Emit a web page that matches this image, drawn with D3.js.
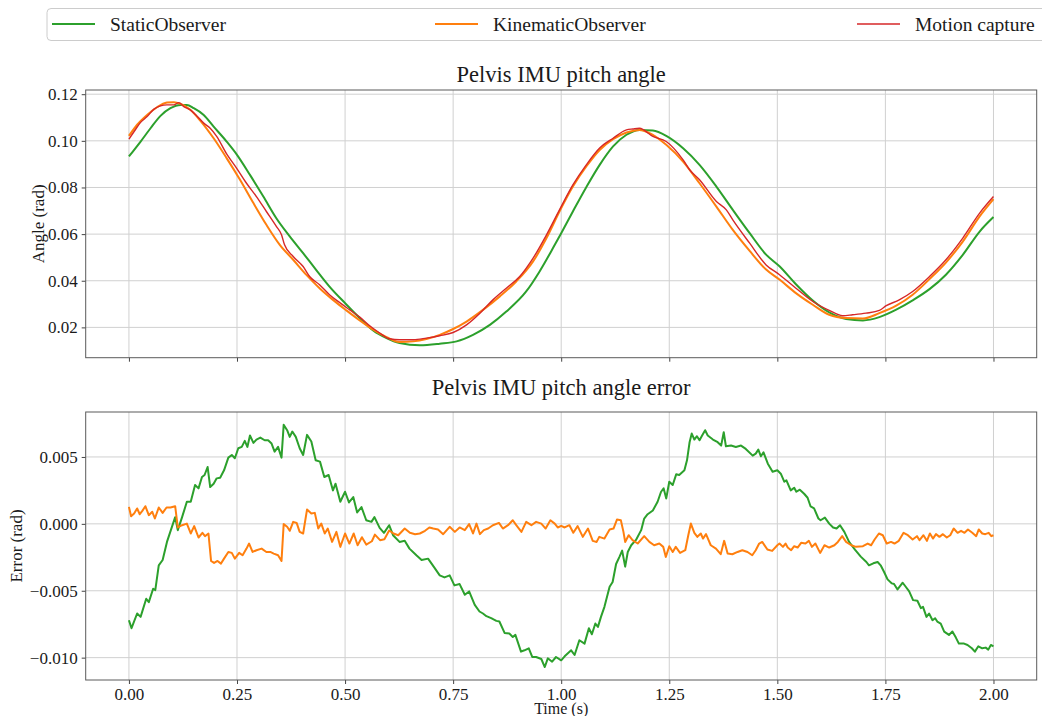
<!DOCTYPE html>
<html lang="en">
<head>
<meta charset="UTF-8">
<title>Pelvis IMU pitch angle</title>
<script src="https://cdn.jsdelivr.net/npm/d3@7"></script>
<style>
    body { margin: 0; background: #fff; }
    svg text { font-family: "Liberation Serif", "DejaVu Serif", serif; fill: #1a1a1a; }
</style>
</head>
<body>
<script>

    // ticks
    var timeTicks = [0, 0.25, 0.5, 0.75, 1.0, 1.25, 1.5, 1.75, 2.0];
    var angleTicks = [0.02, 0.04, 0.06, 0.08, 0.10, 0.12];
    var errorTicks = [-0.010, -0.005, 0.000, 0.005];
    var seriesNames = ["StaticObserver", "KinematicObserver", "Motion capture"];

    // pitch angle (s, rad)
    var staticAngle = [[0,0.0933],[0.027,0.0997],[0.05,0.1054],[0.073,0.1107],[0.096,0.114],[0.119,0.1154],[0.134,0.1154],
        [0.15,0.114],[0.173,0.1111],[0.196,0.1061],[0.226,0.0997],[0.25,0.094],[0.28,0.0854],[0.311,0.0761],[0.341,0.0668],
        [0.372,0.059],[0.403,0.0518],[0.433,0.0447],[0.464,0.0375],[0.5,0.0304],[0.534,0.024],[0.565,0.0187],[0.596,0.0154],
        [0.626,0.0133],[0.673,0.0123],[0.719,0.013],[0.758,0.014],[0.796,0.0168],[0.835,0.0211],[0.873,0.0268],[0.919,0.0354],
        [0.95,0.044],[0.981,0.054],[1.0,0.0604],[1.027,0.0697],[1.058,0.0801],[1.089,0.0897],[1.12,0.0976],[1.151,0.1026],
        [1.181,0.1047],[1.212,0.1044],[1.243,0.1021],[1.282,0.0968],[1.32,0.0897],[1.359,0.0804],[1.397,0.0704],[1.436,0.0604],
        [1.474,0.0512],[1.505,0.0462],[1.543,0.0385],[1.582,0.0315],[1.62,0.0264],[1.659,0.0236],[1.698,0.023],[1.736,0.0244],
        [1.775,0.0276],[1.813,0.0316],[1.852,0.0364],[1.89,0.0426],[1.929,0.0511],[1.968,0.0611],[2.0,0.0673]];

    var kinematicAngle = [[0,0.1021],[0.019,0.1069],[0.042,0.1111],[0.065,0.1144],[0.088,0.1164],[0.104,0.1166],[0.119,0.1159],
        [0.142,0.1133],[0.165,0.1087],[0.196,0.1011],[0.226,0.0926],[0.257,0.0833],[0.288,0.0733],[0.318,0.064],[0.349,0.0554],
        [0.38,0.049],[0.41,0.0426],[0.441,0.0368],[0.472,0.0318],[0.503,0.0273],[0.534,0.023],[0.565,0.019],[0.596,0.0158],
        [0.626,0.0137],[0.658,0.014],[0.688,0.015],[0.719,0.0168],[0.75,0.0193],[0.781,0.0225],[0.819,0.0275],[0.858,0.0333],
        [0.896,0.0397],[0.935,0.0483],[0.966,0.0583],[0.996,0.0697],[1.027,0.0804],[1.058,0.089],[1.089,0.0961],[1.12,0.1007],
        [1.151,0.1036],[1.181,0.1047],[1.212,0.1026],[1.243,0.0983],[1.282,0.0911],[1.32,0.0818],[1.359,0.0718],[1.397,0.0618],
        [1.436,0.0528],[1.474,0.0448],[1.505,0.0405],[1.543,0.0347],[1.582,0.0297],[1.62,0.0254],[1.659,0.024],[1.698,0.0238],
        [1.736,0.0261],[1.775,0.0293],[1.813,0.034],[1.852,0.0407],[1.89,0.0478],[1.929,0.0568],[1.968,0.0676],[2.0,0.075]];

    var mocapAngle = [[0,0.1007],[0.012,0.104],[0.027,0.1079],[0.042,0.1104],[0.058,0.1136],[0.073,0.115],[0.088,0.1154],
        [0.104,0.1154],[0.115,0.1164],[0.127,0.1147],[0.142,0.1133],[0.157,0.1107],[0.173,0.1076],[0.188,0.1054],[0.203,0.1019],
        [0.226,0.0944],[0.249,0.0883],[0.272,0.0818],[0.295,0.0761],[0.318,0.0697],[0.341,0.0633],[0.353,0.0597],[0.36,0.0554],
        [0.38,0.0504],[0.403,0.0461],[0.418,0.0418],[0.441,0.0383],[0.464,0.034],[0.487,0.0307],[0.51,0.0276],[0.534,0.0244],
        [0.557,0.0207],[0.58,0.0176],[0.603,0.0151],[0.626,0.0147],[0.658,0.0147],[0.688,0.0154],[0.719,0.0164],[0.75,0.0178],
        [0.781,0.0211],[0.812,0.0261],[0.842,0.0318],[0.873,0.0368],[0.904,0.0418],[0.935,0.0497],[0.966,0.0597],[0.996,0.0704],
        [1.027,0.0811],[1.058,0.0897],[1.089,0.0969],[1.12,0.1011],[1.151,0.1047],[1.166,0.1051],[1.181,0.1054],[1.212,0.1019],
        [1.243,0.0997],[1.282,0.0918],[1.297,0.0876],[1.32,0.0833],[1.359,0.074],[1.382,0.0704],[1.397,0.0661],[1.436,0.0561],
        [1.474,0.0468],[1.505,0.0426],[1.543,0.0368],[1.582,0.0311],[1.62,0.0273],[1.651,0.025],[1.674,0.0254],[1.705,0.0261],
        [1.736,0.0273],[1.752,0.0293],[1.782,0.0318],[1.813,0.0354],[1.852,0.0418],[1.89,0.049],[1.929,0.0583],[1.968,0.069],
        [2.0,0.0761]];

    // pitch angle error (s, rad)
    var staticError = [[0,-0.0072],[0.006,-0.0078],[0.019,-0.0067],[0.027,-0.00695],[0.04,-0.0056],[0.046,-0.00585],
        [0.056,-0.00485],[0.061,-0.00495],[0.069,-0.0031],[0.078,-0.0027],[0.088,-0.00135],[0.097,-0.00047],[0.107,0.0005],
        [0.113,-0.00047],[0.123,0.0005],[0.134,0.00165],[0.143,0.00165],[0.153,0.0029],[0.161,0.00265],[0.169,0.0035],
        [0.175,0.00365],[0.182,0.00425],[0.188,0.00275],[0.196,0.003],[0.203,0.0034],[0.211,0.00345],[0.22,0.004],
        [0.23,0.00495],[0.238,0.00515],[0.245,0.0049],[0.253,0.00565],[0.261,0.00575],[0.268,0.0062],[0.274,0.00575],
        [0.28,0.0066],[0.288,0.00605],[0.295,0.0063],[0.304,0.00645],[0.314,0.00625],[0.322,0.00625],[0.33,0.006],
        [0.337,0.0054],[0.345,0.00575],[0.353,0.00495],[0.358,0.0074],[0.366,0.007],[0.372,0.0065],[0.378,0.0069],
        [0.386,0.0065],[0.395,0.00565],[0.403,0.00515],[0.412,0.00665],[0.422,0.00615],[0.432,0.00475],[0.442,0.00465],
        [0.452,0.0035],[0.462,0.00365],[0.472,0.0025],[0.478,0.003],[0.489,0.00165],[0.5,0.0024],[0.509,0.0016],
        [0.519,0.002],[0.528,0.00085],[0.538,0.00125],[0.549,0.00027],[0.561,0.00015],[0.568,0.0005],[0.58,-0.0003],
        [0.59,-0.00067],[0.602,-0.0001],[0.611,-0.00085],[0.626,-0.00135],[0.638,-0.00127],[0.649,-0.00185],[0.665,-0.00235],
        [0.677,-0.0027],[0.692,-0.0026],[0.703,-0.0031],[0.719,-0.00385],[0.73,-0.004],[0.742,-0.00385],[0.753,-0.0046],
        [0.765,-0.0045],[0.777,-0.0053],[0.787,-0.00505],[0.8,-0.00605],[0.811,-0.00655],[0.819,-0.0067],[0.827,-0.0069],
        [0.838,-0.00705],[0.85,-0.00725],[0.857,-0.0073],[0.869,-0.00815],[0.88,-0.0082],[0.888,-0.00845],[0.894,-0.0083],
        [0.907,-0.00955],[0.915,-0.00945],[0.925,-0.0093],[0.933,-0.00995],[0.942,-0.00995],[0.954,-0.0101],[0.962,-0.0107],
        [0.969,-0.01005],[0.979,-0.0103],[0.988,-0.00995],[1.0,-0.0102],[1.008,-0.0099],[1.023,-0.00945],[1.031,-0.0098],
        [1.042,-0.0087],[1.054,-0.00895],[1.064,-0.0078],[1.071,-0.00825],[1.079,-0.00745],[1.085,-0.0077],[1.092,-0.00695],
        [1.1,-0.0062],[1.112,-0.0047],[1.119,-0.00435],[1.127,-0.003],[1.135,-0.00245],[1.141,-0.002],[1.148,-0.0032],
        [1.154,-0.0021],[1.162,-0.0016],[1.173,-0.0012],[1.185,-0.00047],[1.192,0.0004],[1.2,0.00072],[1.212,0.001],
        [1.223,0.00165],[1.231,0.0024],[1.237,0.00265],[1.243,0.0019],[1.25,0.00315],[1.258,0.0029],[1.266,0.0037],
        [1.273,0.00365],[1.285,0.004],[1.291,0.00475],[1.297,0.0061],[1.302,0.00675],[1.308,0.0063],[1.314,0.00655],
        [1.32,0.00625],[1.326,0.0066],[1.333,0.007],[1.339,0.0066],[1.351,0.0063],[1.362,0.0061],[1.37,0.00585],
        [1.376,0.00685],[1.381,0.0058],[1.393,0.00585],[1.404,0.00575],[1.416,0.00585],[1.427,0.0056],[1.443,0.0051],
        [1.45,0.00525],[1.456,0.00555],[1.462,0.00505],[1.468,0.00535],[1.478,0.0045],[1.489,0.0039],[1.5,0.004],
        [1.508,0.00375],[1.516,0.00315],[1.521,0.00325],[1.531,0.0025],[1.539,0.0027],[1.544,0.0024],[1.552,0.00255],
        [1.562,0.00225],[1.57,0.00195],[1.577,0.0013],[1.585,0.00115],[1.595,0.0004],[1.6,0.00027],[1.61,0.00047],
        [1.62,0.00002],[1.629,-0.00027],[1.637,-0.00035],[1.645,-0.0001],[1.655,-0.0006],[1.666,-0.00135],[1.68,-0.00195],
        [1.693,-0.00245],[1.706,-0.00285],[1.712,-0.0031],[1.722,-0.00295],[1.732,-0.00285],[1.739,-0.0031],[1.747,-0.0036],
        [1.755,-0.00415],[1.765,-0.00445],[1.77,-0.0045],[1.778,-0.0049],[1.79,-0.0044],[1.797,-0.0047],[1.805,-0.00505],
        [1.814,-0.0057],[1.824,-0.00575],[1.832,-0.0063],[1.837,-0.0062],[1.845,-0.00695],[1.851,-0.0067],[1.859,-0.0072],
        [1.865,-0.00705],[1.87,-0.0073],[1.878,-0.00745],[1.886,-0.00805],[1.897,-0.0083],[1.905,-0.00805],[1.913,-0.0085],
        [1.92,-0.00895],[1.932,-0.00895],[1.94,-0.00905],[1.95,-0.0093],[1.957,-0.00955],[1.965,-0.00915],[1.974,-0.0093],
        [1.982,-0.00925],[1.988,-0.0094],[1.994,-0.00905],[2.0,-0.00915]];

    var kinematicError = [[0,0.00127],[0.005,0.00057],[0.012,0.00077],[0.019,0.00115],[0.025,0.00072],[0.031,0.00097],
        [0.038,0.00132],[0.046,0.00065],[0.054,0.0009],[0.06,0.0004],[0.069,0.00122],[0.078,0.00082],[0.087,0.00122],
        [0.096,0.00122],[0.107,0.00132],[0.113,-0.00027],[0.123,-0.0001],[0.134,0.00002],[0.143,-0.00072],[0.151,-0.00017],
        [0.161,-0.00102],[0.17,-0.00067],[0.176,-0.00092],[0.184,-0.00072],[0.19,-0.00277],[0.197,-0.00292],[0.205,-0.00277],
        [0.213,-0.00297],[0.22,-0.0026],[0.23,-0.0021],[0.238,-0.00217],[0.245,-0.0026],[0.255,-0.00217],[0.263,-0.00235],
        [0.272,-0.00185],[0.278,-0.00147],[0.286,-0.0021],[0.295,-0.00197],[0.307,-0.00185],[0.318,-0.0021],[0.327,-0.0021],
        [0.335,-0.00222],[0.345,-0.00235],[0.353,-0.00277],[0.358,-0.00002],[0.366,-0.00022],[0.372,-0.00052],[0.38,0.00015],
        [0.388,0.00007],[0.395,-0.0006],[0.403,-0.00072],[0.412,0.00107],[0.422,0.00077],[0.43,0.00082],[0.438,-0.00035],
        [0.445,0.00002],[0.453,-0.00072],[0.46,-0.00035],[0.47,-0.00135],[0.48,-0.0006],[0.489,-0.00172],[0.5,-0.00072],
        [0.51,-0.00147],[0.52,-0.00072],[0.529,-0.0016],[0.539,-0.001],[0.549,-0.00155],[0.562,-0.0013],[0.569,-0.0008],
        [0.581,-0.00122],[0.591,-0.00115],[0.602,-0.0005],[0.612,-0.00072],[0.623,-0.00085],[0.638,-0.00035],[0.65,-0.00067],
        [0.662,-0.00077],[0.673,-0.00072],[0.685,-0.00052],[0.695,-0.00027],[0.704,-0.00035],[0.715,-0.00042],[0.727,-0.00077],
        [0.742,-0.00022],[0.754,-0.0006],[0.765,-0.00027],[0.777,-0.00047],[0.787,-0.00002],[0.796,-0.00072],[0.804,0.00002],
        [0.812,-0.00077],[0.821,-0.00047],[0.831,-0.00035],[0.842,-0.0001],[0.856,0.00007],[0.865,-0.00035],[0.877,-0.0001],
        [0.888,0.00027],[0.896,-0.0001],[0.908,-0.0006],[0.919,0.00015],[0.931,-0.0001],[0.942,0.00015],[0.954,0.00002],
        [0.964,-0.00035],[0.975,0.00027],[0.985,0.00002],[0.992,-0.00027],[1.0,-0.00015],[1.008,-0.00027],[1.019,-0.0001],
        [1.028,-0.00067],[1.038,-0.00017],[1.05,-0.00097],[1.062,-0.00035],[1.073,-0.00127],[1.082,-0.00135],[1.088,-0.00097],
        [1.1,-0.0011],[1.112,-0.00042],[1.121,-0.00035],[1.129,0.00032],[1.138,0.00027],[1.144,-0.0006],[1.148,-0.00135],
        [1.156,-0.00085],[1.165,-0.00122],[1.177,-0.00147],[1.192,-0.00092],[1.204,-0.00135],[1.215,-0.0016],[1.227,-0.00147],
        [1.236,-0.00172],[1.242,-0.00247],[1.25,-0.00167],[1.258,-0.0021],[1.265,-0.00172],[1.275,-0.00217],[1.287,-0.00197],
        [1.294,-0.00085],[1.3,0.00002],[1.308,-0.00067],[1.315,-0.00097],[1.323,-0.00072],[1.328,-0.0011],[1.335,-0.00077],
        [1.346,-0.0016],[1.358,-0.00185],[1.369,-0.00227],[1.377,-0.00127],[1.385,-0.00222],[1.396,-0.00227],[1.408,-0.0021],
        [1.419,-0.00197],[1.431,-0.0021],[1.442,-0.00235],[1.45,-0.00197],[1.458,-0.00147],[1.465,-0.00135],[1.477,-0.00192],
        [1.488,-0.00202],[1.5,-0.0016],[1.505,-0.00147],[1.513,-0.00172],[1.519,-0.00147],[1.524,-0.00177],[1.532,-0.00197],
        [1.539,-0.00167],[1.547,-0.00177],[1.555,-0.00142],[1.565,-0.00147],[1.573,-0.00127],[1.58,-0.00172],[1.588,-0.00147],
        [1.599,-0.00217],[1.609,-0.0016],[1.62,-0.00177],[1.632,-0.0016],[1.64,-0.00135],[1.65,-0.00092],[1.659,-0.00135],
        [1.671,-0.0016],[1.682,-0.00172],[1.698,-0.00167],[1.709,-0.00147],[1.717,-0.0016],[1.725,-0.00117],[1.735,-0.00072],
        [1.744,-0.00085],[1.753,-0.00147],[1.763,-0.00135],[1.771,-0.00147],[1.781,-0.00127],[1.792,-0.00067],[1.802,-0.00085],
        [1.813,-0.00117],[1.823,-0.00092],[1.829,-0.00122],[1.838,-0.00085],[1.846,-0.00127],[1.853,-0.00072],[1.86,-0.0011],
        [1.867,-0.00077],[1.875,-0.00097],[1.883,-0.00077],[1.892,-0.00102],[1.9,-0.00085],[1.908,-0.00035],[1.917,-0.00067],
        [1.925,-0.00052],[1.933,-0.00067],[1.941,-0.00042],[1.951,-0.00067],[1.96,-0.00092],[1.966,-0.00042],[1.974,-0.00072],
        [1.981,-0.00077],[1.989,-0.00067],[1.995,-0.00092],[2.0,-0.00085]];

    var colors = ["#2ca02c", "#ff7f0e", "#d62728"];
    var serif = "'Liberation Serif', 'DejaVu Serif', serif";

    // canvas
    var width = 1042;
    var height = 716;
    var svg = d3.select("body").append("svg")
        .attr("width", width)
        .attr("height", height);

    var left = 85.7, right = 1036.7;
    var x = d3.scaleLinear().domain([-0.1, 2.1]).range([left, right]);

    function panel(top, bottom, domain, ticks, fmt, showXLabels) {
        var y = d3.scaleLinear().domain(domain).range([bottom, top]);
        var g = svg.append("g");

        // grid
        g.selectAll(".gx").data(timeTicks).enter().append("line")
            .attr("x1", function (d) { return x(d); })
            .attr("x2", function (d) { return x(d); })
            .attr("y1", top).attr("y2", bottom)
            .attr("stroke", "#d0d0d0").attr("stroke-width", 1);
        g.selectAll(".gy").data(ticks).enter().append("line")
            .attr("x1", left).attr("x2", right)
            .attr("y1", function (d) { return y(d); })
            .attr("y2", function (d) { return y(d); })
            .attr("stroke", "#d0d0d0").attr("stroke-width", 1);

        // axes
        var ax = g.append("g").attr("transform", "translate(0," + bottom + ")")
            .call(d3.axisBottom(x).tickValues(timeTicks).tickSize(4).tickPadding(4)
                .tickFormat(showXLabels ? d3.format(".2f") : function () { return ""; }));
        var ay = g.append("g").attr("transform", "translate(" + left + ",0)")
            .call(d3.axisLeft(y).tickValues(ticks).tickSize(4).tickPadding(4).tickFormat(fmt));
        [ax, ay].forEach(function (a) {
            a.select(".domain").remove();
            a.selectAll(".tick line").attr("stroke", "#444");
            a.selectAll("text").style("font-size", "17px")
                .style("font-family", serif).attr("fill", "#1a1a1a");
        });

        // frame
        g.append("rect")
            .attr("x", left).attr("y", top)
            .attr("width", right - left).attr("height", bottom - top)
            .attr("fill", "none").attr("stroke", "#5a5a5a").attr("stroke-width", 1);
        return y;
    }

    // top panel
    var yTop = panel(90, 357.7, [0.0070, 0.1218], angleTicks, d3.format(".2f"), false);
    var lineTop = d3.line().curve(d3.curveMonotoneX)
        .x(function (d) { return x(d[0]); }).y(function (d) { return yTop(d[1]); });
    [staticAngle, kinematicAngle, mocapAngle].forEach(function (s, i) {
        svg.append("path").datum(s).attr("d", lineTop)
            .attr("fill", "none").attr("stroke", colors[i])
            .attr("stroke-width", i === 2 ? 1.4 : 2).attr("stroke-linejoin", "round");
    });

    // bottom panel
    var yBot = panel(412, 680, [-0.01167, 0.00836], errorTicks, d3.format(".3f"), true);
    var lineBot = d3.line().x(function (d) { return x(d[0]); }).y(function (d) { return yBot(d[1]); });
    [staticError, kinematicError].forEach(function (s, i) {
        svg.append("path").datum(s).attr("d", lineBot)
            .attr("fill", "none").attr("stroke", colors[i])
            .attr("stroke-width", 2).attr("stroke-linejoin", "round");
    });

    // titles and labels
    svg.append("text").attr("x", (left + right) / 2).attr("y", 81.5)
        .attr("text-anchor", "middle").style("font-size", "22.5px").text("Pelvis IMU pitch angle");
    svg.append("text").attr("x", (left + right) / 2).attr("y", 395)
        .attr("text-anchor", "middle").style("font-size", "22.5px").text("Pelvis IMU pitch angle error");
    svg.append("text").attr("x", (left + right) / 2).attr("y", 713.5)
        .attr("text-anchor", "middle").style("font-size", "16px").text("Time (s)");
    svg.append("text").attr("transform", "translate(44," + (90 + 357.7) / 2 + ") rotate(-90)")
        .attr("text-anchor", "middle").style("font-size", "17px").text("Angle (rad)");
    svg.append("text").attr("transform", "translate(22," + (412 + 680) / 2 + ") rotate(-90)")
        .attr("text-anchor", "middle").style("font-size", "17px").text("Error (rad)");

    // legend
    svg.append("rect").attr("x", 47).attr("y", 8.5).attr("width", 1015).attr("height", 32).attr("rx", 4)
        .attr("fill", "#fff").attr("stroke", "#cccccc").attr("stroke-width", 1);
    var legendX = [52, 435, 857];
    var lg = svg.selectAll(".lg").data(seriesNames).enter().append("g")
        .attr("transform", function (d, i) { return "translate(" + legendX[i] + ",0)"; });
    lg.append("line").attr("x1", 0).attr("x2", 43).attr("y1", 24).attr("y2", 24)
        .attr("stroke", function (d, i) { return colors[i]; })
        .attr("stroke-width", function (d, i) { return i === 2 ? 1.4 : 2; });
    lg.append("text").attr("x", 58).attr("y", 30.5).style("font-size", "19.5px").text(function (d) { return d; });

</script>
</body>
</html>
